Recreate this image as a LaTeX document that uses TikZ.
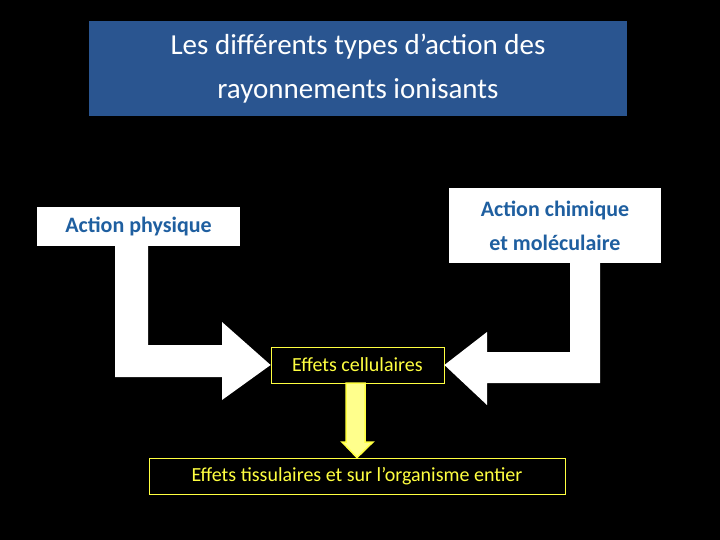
\documentclass[tikz,border=0pt]{standalone}
\usepackage{fontspec}
\setmainfont{Carlito}
\definecolor{titleblue}{HTML}{2A5590}
\definecolor{txtblue}{HTML}{1F5FA0}
\definecolor{yel}{HTML}{FFFF40}
\begin{document}
\begin{tikzpicture}[x=1pt,y=-1pt,
  wbox/.style={draw=none,fill=white,text=txtblue,font=\fontsize{22}{26}\selectfont\bfseries,align=center,inner sep=0pt},
  ybox/.style={draw=yel,line width=0.8pt,text=yel,font=\fontsize{20}{24}\selectfont,inner sep=0pt},
  bigarrow/.style={fill=white,draw=none}]
\useasboundingbox[fill=black] (0,0) rectangle (720,540);
\node[fill=titleblue,minimum width=538pt,minimum height=95pt,text=white,align=center,font=\fontsize{29}{44}\selectfont] (title) at (358,68.5) {Les différents types d’action des\\rayonnements ionisants};
\node[wbox,minimum width=203pt,minimum height=39pt] (phys) at (138.5,226.5) {Action physique};
\node[wbox,minimum width=212pt,minimum height=75pt,font=\fontsize{22}{34}\selectfont\bfseries] (chim) at (555,225.5) {Action chimique\\et moléculaire};
\node[ybox,minimum width=173pt,minimum height=36pt] (cell) at (357.5,365) {Effets cellulaires};
\node[ybox,minimum width=416pt,minimum height=36pt] (tiss) at (357,476) {Effets tissulaires et sur l’organisme entier};
% left bent arrow
\fill[bigarrow] (115,246) -- (148,246) -- (148,345) -- (222,345) -- (222,322) -- (cell.west) -- (222,400) -- (222,377) -- (115,377) -- cycle;
% right bent arrow
\fill[bigarrow] (570,263) -- (600,263) -- (600,383) -- (487,383) -- (487,405) -- (cell.east) -- (487,332) -- (487,352) -- (570,352) -- cycle;
% yellow arrow
\filldraw[fill=yel!60!white,draw=yel,line width=1.5pt] (346,383) -- (365,383) -- (365,442) -- (373,442) -- (tiss.north) -- (342,442) -- (346,442) -- cycle;
\end{tikzpicture}
\end{document}
